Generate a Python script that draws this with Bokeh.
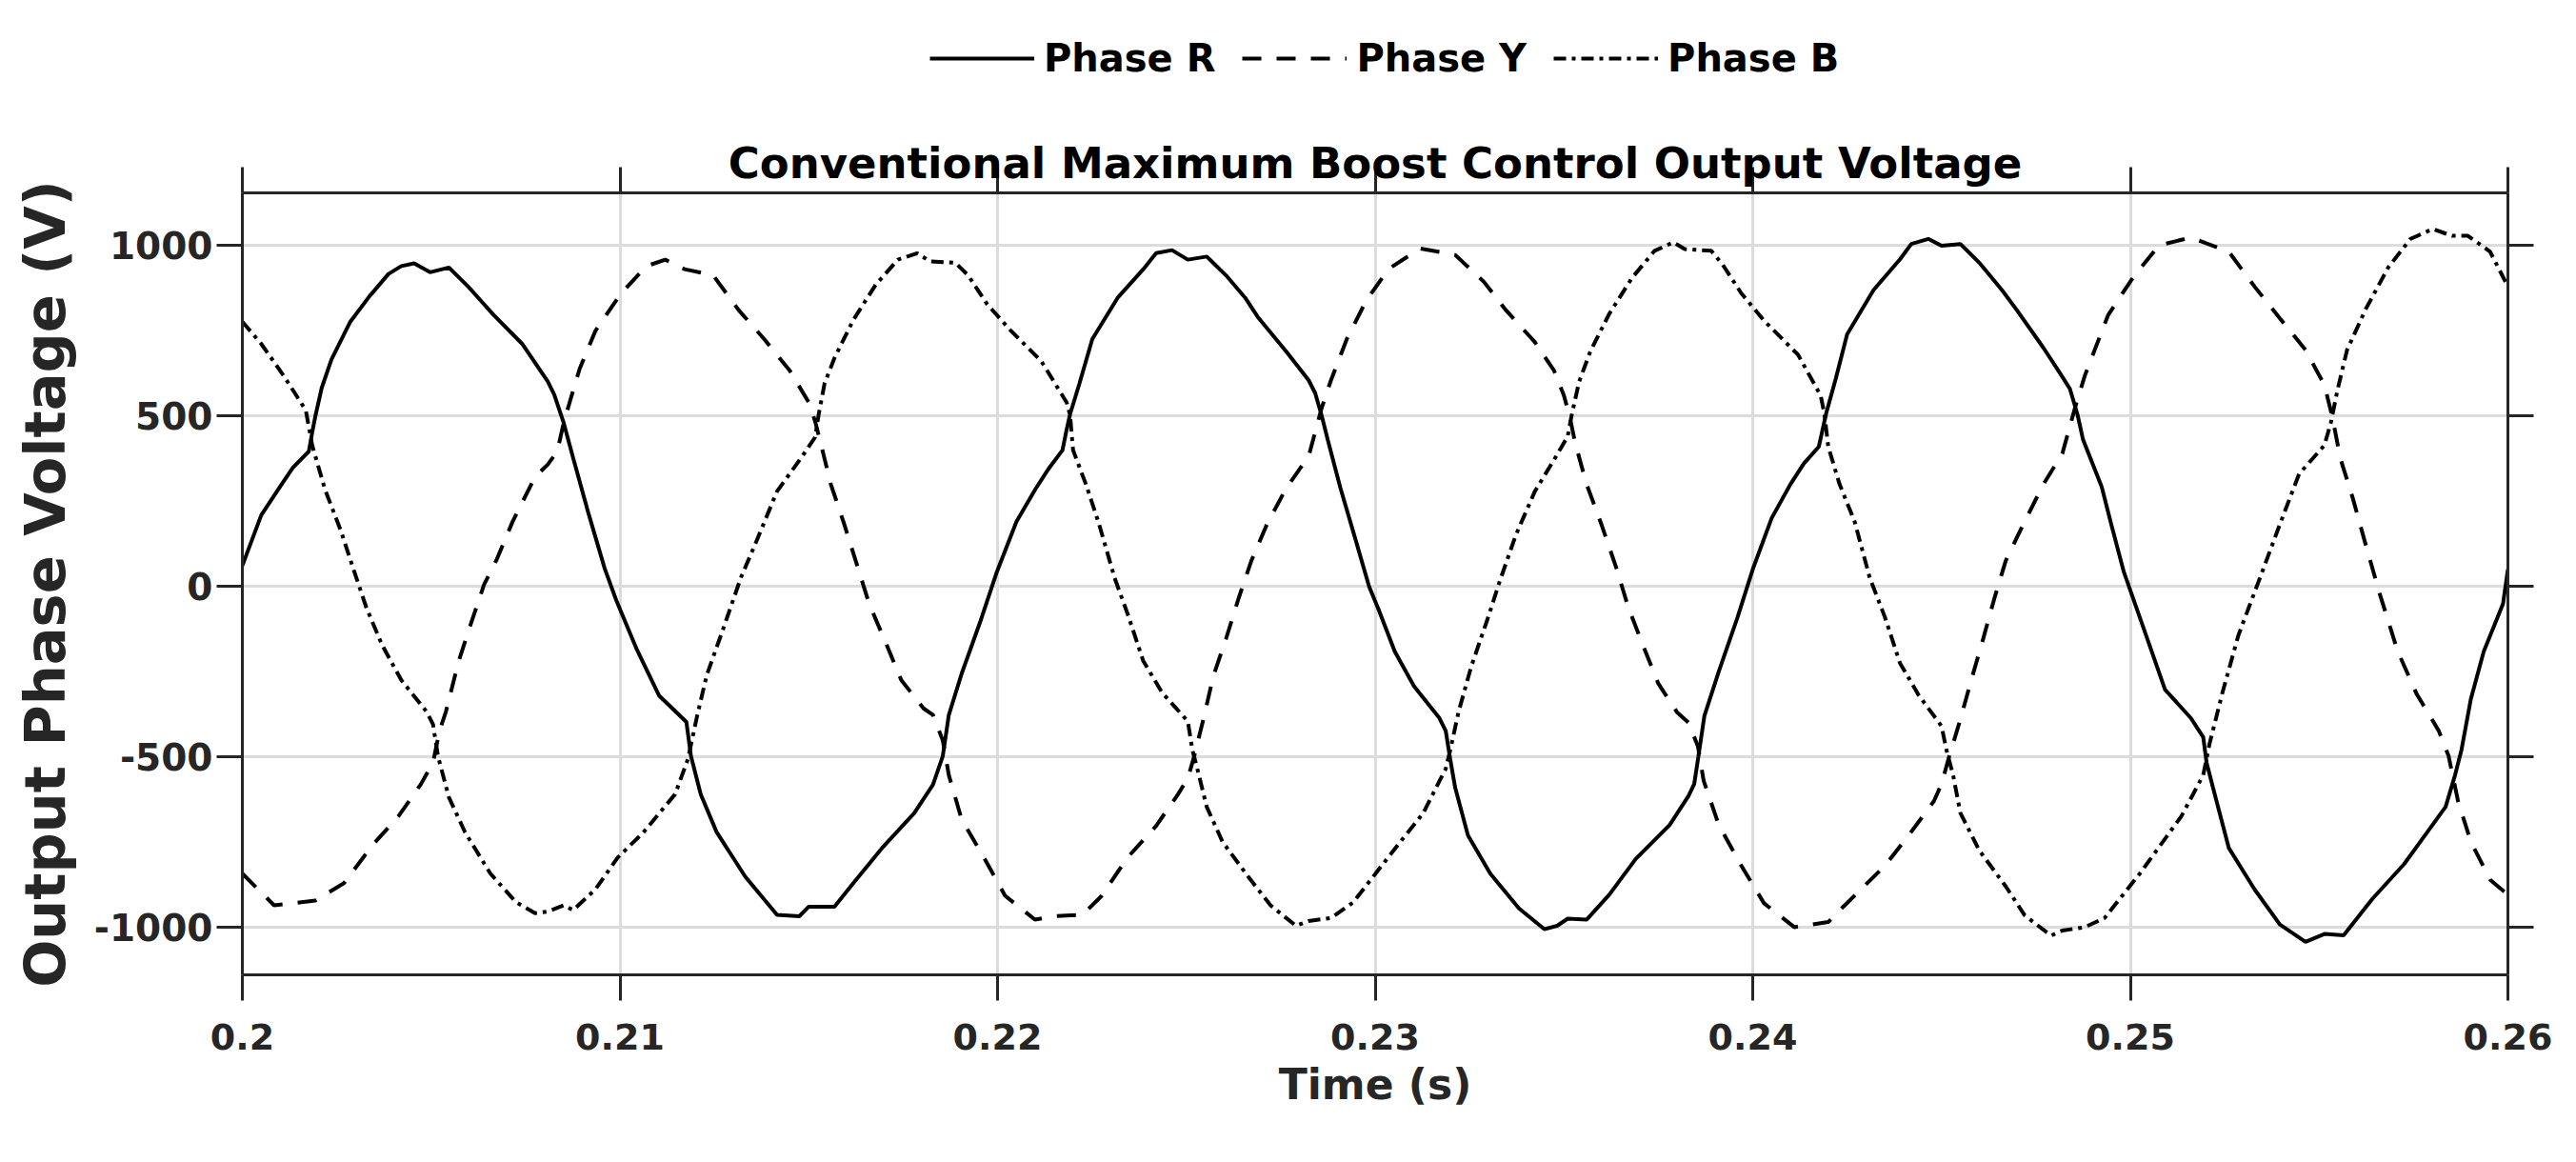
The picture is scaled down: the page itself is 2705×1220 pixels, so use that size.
from bokeh.plotting import figure
from bokeh.layouts import column
from bokeh.models import (Range1d, LinearAxis, FixedTicker, CustomJSTickFormatter,
                          Legend, LegendItem)
from bokeh.embed import file_html
from bokeh.resources import INLINE

# ---------------- data ----------------
title_text = "Conventional Maximum Boost Control Output Voltage"
x_label = "Time (s)"
y_label = "Output Phase Voltage (V)"
series_names = ["Phase R", "Phase Y", "Phase B"]
x_ticks = [0.2, 0.21, 0.22, 0.23, 0.24, 0.25, 0.26]
y_ticks = [-1000, -500, 0, 500, 1000]

t_R = [0.2000, 0.2005, 0.2010, 0.20134, 0.20176, 0.20185, 0.20193, 0.2021, 0.20236, 0.20286,
       0.20337, 0.20387, 0.20421, 0.20455, 0.20497, 0.20547, 0.20598, 0.20666, 0.20741, 0.20809,
       0.20826, 0.20851, 0.20876, 0.20918, 0.2096, 0.2099, 0.21045, 0.21104, 0.21176, 0.21188,
       0.21214, 0.21256, 0.21332, 0.21416, 0.21475, 0.2150, 0.21568, 0.21618, 0.21694, 0.21779,
       0.21829, 0.21855, 0.21871, 0.21905, 0.21956, 0.21998,
       0.2205, 0.2210, 0.22135, 0.22172, 0.22182, 0.22192, 0.22217, 0.22251, 0.22318, 0.22386,
       0.2242, 0.22462, 0.22504, 0.22554, 0.22605, 0.22656, 0.22689, 0.22765, 0.22824, 0.22841,
       0.22858, 0.22875, 0.22908, 0.2295, 0.22984, 0.2301, 0.23052, 0.23103, 0.2317, 0.23187,
       0.23199, 0.23212, 0.23246, 0.23305, 0.23381, 0.23448, 0.23482, 0.2351, 0.2356, 0.2362,
       0.2369, 0.2378, 0.2383, 0.23845, 0.23856, 0.23872, 0.2391, 0.2396, 0.2400,
       0.2405, 0.2410, 0.24135, 0.24175, 0.24185, 0.24195, 0.2422, 0.2425, 0.2432, 0.2439,
       0.2442, 0.24465, 0.2450, 0.2455, 0.2460, 0.2466, 0.2470, 0.2477, 0.2482, 0.2484,
       0.2486, 0.24875, 0.24924, 0.2495, 0.24983, 0.25033, 0.25092, 0.2516, 0.25193, 0.25202,
       0.25219, 0.25261, 0.25329, 0.25396, 0.25464, 0.25514, 0.25565, 0.25641, 0.25725, 0.25835,
       0.2586, 0.25877, 0.25902, 0.25936, 0.25987, 0.2600]
v_R = [61, 209, 293, 349, 396, 452, 498, 582, 666, 777,
       852, 917, 940, 948, 922, 936, 880, 796, 712, 601,
       563, 480, 377, 209, 51, -40, -186, -321, -398, -498,
       -610, -721, -852, -964, -968, -940, -940, -871, -768, -666,
       -582, -498, -377, -256, -98, 42,
       190, 285, 345, 400, 455, 505, 596, 726, 847, 931,
       978, 987, 959, 968, 913, 847, 791, 689, 605, 568,
       503, 428, 289, 130, 0, -70, -191, -293, -386, -424,
       -508, -591, -731, -843, -945, -1006, -996, -975, -978, -905,
       -800, -700, -615, -580, -500, -380, -250, -90, 50,
       200, 300, 360, 410, 460, 510, 610, 740, 870, 960,
       1005, 1020, 1000, 1005, 950, 870, 810, 700, 615, 580,
       505, 430, 293, 180, 42, -116, -303, -386, -442, -517,
       -591, -768, -889, -992, -1043, -1020, -1024, -917, -815, -647,
       -554, -480, -330, -191, -51, 50]

t_Y = [0.2000, 0.20084, 0.20193, 0.20269, 0.20345, 0.20413, 0.20472, 0.20505, 0.20522, 0.20539,
       0.20573, 0.20606, 0.2064, 0.20674, 0.20716, 0.20775, 0.20809, 0.20834, 0.20851, 0.20868,
       0.20893, 0.20935, 0.21003, 0.2107, 0.2112, 0.21171, 0.21247, 0.21315, 0.21382, 0.2145,
       0.2150, 0.21517, 0.21534, 0.21559, 0.21593, 0.2163, 0.2166, 0.21703, 0.21745, 0.21804,
       0.21829, 0.21855, 0.21871, 0.21905, 0.21964, 0.2202, 0.22099, 0.2215, 0.22225, 0.22276,
       0.22344, 0.2242, 0.22478, 0.22504, 0.22521, 0.22546, 0.22571, 0.22605, 0.22639, 0.22672,
       0.22715, 0.22765, 0.22824, 0.22858, 0.22883, 0.22925, 0.22976, 0.23035, 0.23119, 0.23212,
       0.23288, 0.23347, 0.23423, 0.23474, 0.2350, 0.23515, 0.2353, 0.2356, 0.2360, 0.2364,
       0.2367, 0.2371, 0.2375, 0.2380, 0.2383, 0.23855, 0.2387, 0.2391, 0.2397, 0.2403,
       0.2411, 0.2420, 0.2424, 0.2435, 0.2442, 0.2448, 0.2450, 0.2452, 0.2455, 0.2458,
       0.2461, 0.2464, 0.2467, 0.2472, 0.2477, 0.2482, 0.24855, 0.2488, 0.24941, 0.25008,
       0.25076, 0.2516, 0.25261, 0.25329, 0.25396, 0.25464, 0.25514, 0.25535, 0.25556, 0.2559,
       0.25624, 0.2566, 0.25708, 0.25758, 0.25817, 0.25843, 0.25868, 0.25902, 0.25953, 0.2600]
v_Y = [-843, -936, -922, -871, -759, -675, -582, -517, -424, -368,
       -219, -107, 5, 80, 191, 321, 358, 396, 480, 545,
       638, 750, 860, 940, 959, 931, 913, 810, 726, 633,
       540, 484, 410, 298, 186, 55, -51, -163, -275, -358,
       -377, -452, -554, -684, -796, -908, -978, -968, -964, -908,
       -796, -703, -610, -563, -498, -386, -265, -154, -33, 75,
       186, 289, 382, 522, 605, 726, 838, 931, 992, 973,
       894, 810, 717, 633, 560, 500, 420, 300, 180, 50,
       -60, -175, -285, -370, -400, -470, -570, -700, -820, -930,
       -1000, -985, -940, -820, -720, -630, -580, -500, -390, -270,
       -155, -35, 75, 190, 300, 390, 530, 620, 796, 908,
       1001, 1024, 982, 880, 787, 694, 591, 498, 377, 256,
       120, -20, -190, -315, -424, -498, -630, -750, -861, -905]

t_B = [0.2000, 0.2005, 0.20109, 0.20168, 0.20185, 0.20219, 0.20261, 0.20294, 0.20328, 0.2037,
       0.20421, 0.20488, 0.20505, 0.20518, 0.20547, 0.2059, 0.20657, 0.20725, 0.20775, 0.20809,
       0.20851, 0.20876, 0.20935, 0.20994, 0.21062, 0.21146, 0.2118, 0.21205, 0.2123, 0.21273,
       0.2132, 0.21357, 0.21416, 0.21483, 0.21517, 0.21526, 0.21542, 0.21568, 0.21618, 0.21677,
       0.21736, 0.21787, 0.21821, 0.21888, 0.21922, 0.21972, 0.22032, 0.22116, 0.22183, 0.22192,
       0.2220, 0.22234, 0.22268, 0.2231, 0.22344, 0.22386, 0.22436, 0.22504, 0.22516, 0.22529,
       0.22554, 0.22596, 0.22664, 0.22723, 0.2279, 0.22824, 0.22883, 0.22942, 0.23001, 0.2306,
       0.23127, 0.23187, 0.23199, 0.23221, 0.23254, 0.23297, 0.2333, 0.23372, 0.23423, 0.23474,
       0.2351, 0.2352, 0.2354, 0.2357, 0.2362, 0.2368, 0.2374, 0.2379, 0.2382, 0.2389,
       0.2392, 0.2397, 0.2403, 0.2412, 0.2418, 0.2419, 0.2420, 0.2423, 0.2427, 0.2431,
       0.2435, 0.2439, 0.2444, 0.2450, 0.24515, 0.2453, 0.2455, 0.2460, 0.2467, 0.2472,
       0.2479, 0.2482, 0.2488, 0.24932, 0.25025, 0.25135, 0.25193, 0.2521, 0.25244, 0.25286,
       0.25346, 0.25396, 0.25447, 0.25514, 0.25531, 0.25548, 0.25574, 0.25624, 0.25683, 0.25742,
       0.25801, 0.25852, 0.25894, 0.25953, 0.2600]
v_B = [777, 712, 619, 517, 414, 284, 163, 51, -61, -172,
       -275, -368, -405, -498, -619, -722, -843, -927, -959, -954,
       -936, -950, -889, -796, -722, -610, -507, -377, -260, -126,
       25, 121, 279, 382, 438, 503, 596, 670, 782, 885,
       959, 978, 954, 950, 913, 829, 754, 661, 540, 503,
       400, 300, 186, 25, -79, -219, -312, -396, -480, -535,
       -647, -750, -852, -936, -996, -982, -973, -927, -843, -759,
       -666, -535, -480, -368, -237, -98, 15, 149, 279, 372,
       440, 500, 600, 690, 800, 905, 985, 1010, 990, 985,
       945, 860, 780, 680, 560, 505, 410, 300, 190, 25,
       -90, -225, -320, -410, -490, -550, -665, -775, -880, -965,
       -1025, -1010, -1000, -973, -843, -675, -554, -461, -312, -144,
       33, 182, 330, 414, 480, 573, 694, 815, 936, 1020,
       1049, 1029, 1029, 982, 880]

series = [(t_R, v_R), (t_Y, v_Y), (t_B, v_B)]

# ---------------- styling ----------------
FONT = "DejaVu Sans"
AX = "#262626"
W = 2705
LEG_H = 110
MAIN_H = 1220 - LEG_H

styles = [dict(line_color="black", line_width=4),
          dict(line_color="black", line_width=4, line_dash="20 16"),
          dict(line_color="black", line_width=4, line_dash="13 6 4 6")]

# ---------------- main plot ----------------
p = figure(width=W, height=MAIN_H, output_backend="svg", toolbar_location=None,
           title=None, x_range=Range1d(0.2, 0.26), y_range=Range1d(-1140, 1155),
           min_border_left=254, min_border_right=72, min_border_top=202 - LEG_H,
           min_border_bottom=197, background_fill_color="white",
           border_fill_color="white")
p.outline_line_color = None

xfmt = CustomJSTickFormatter(code="return tick.toFixed(2).replace(/0$/, '');")
yfmt = CustomJSTickFormatter(code="return String(Math.round(tick));")
blank = CustomJSTickFormatter(code="return '';")

def style_axis(ax):
    ax.axis_line_color = AX
    ax.axis_line_width = 3
    ax.major_tick_line_color = AX
    ax.major_tick_line_width = 3
    ax.major_tick_out = 27
    ax.major_tick_in = 0
    ax.minor_tick_line_color = None
    ax.major_label_text_font = FONT
    ax.major_label_text_font_style = "bold"
    ax.major_label_text_font_size = "38px"
    ax.major_label_text_color = AX
    ax.axis_label_text_font = FONT
    ax.axis_label_text_font_style = "bold"
    ax.axis_label_text_color = AX

xa = p.xaxis[0]
xa.ticker = FixedTicker(ticks=x_ticks)
xa.formatter = xfmt
style_axis(xa)
xa.major_label_standoff = 24
xa.axis_label = x_label
xa.axis_label_text_font_size = "44px"
xa.axis_label_standoff = 8

ya = p.yaxis[0]
ya.ticker = FixedTicker(ticks=y_ticks)
ya.formatter = yfmt
style_axis(ya)
ya.major_label_text_font_size = "39px"
ya.major_label_standoff = 4
ya.axis_label = y_label
ya.axis_label_text_font_size = "59px"
ya.axis_label_standoff = 14

top = LinearAxis(ticker=FixedTicker(ticks=x_ticks), formatter=blank)
style_axis(top)
top.major_label_text_font_size = "1px"
top.major_label_standoff = 0
top.axis_label = title_text
top.axis_label_text_font_size = "45px"
top.axis_label_text_color = "black"
top.axis_label_standoff = -22
p.add_layout(top, "above")

right = LinearAxis(ticker=FixedTicker(ticks=y_ticks), formatter=blank)
style_axis(right)
right.major_label_text_font_size = "1px"
right.major_label_standoff = 0
p.add_layout(right, "right")

p.xgrid.ticker = FixedTicker(ticks=x_ticks)
p.ygrid.ticker = FixedTicker(ticks=y_ticks)
for g in (p.xgrid[0], p.ygrid[0]):
    g.grid_line_color = "#dcdcdc"
    g.grid_line_width = 3

for (tt, vv), st in zip(series, styles):
    p.line(tt, vv, **st)

# ---------------- legend strip above the plot ----------------
# Same series drawn again, but the strip's y range lies far above the data,
# so only their legend samples are visible.
lg = figure(width=W, height=LEG_H, output_backend="svg", toolbar_location=None,
            title=None, x_axis_type=None, y_axis_type=None,
            x_range=Range1d(0.2, 0.26), y_range=Range1d(5000, 6000),
            min_border=0, background_fill_color="white", border_fill_color="white")
lg.outline_line_color = None
lg.grid.visible = False
leg_r = [lg.line(tt, vv, **st) for (tt, vv), st in zip(series, styles)]

legend = Legend(items=[LegendItem(label=n, renderers=[r]) for n, r in zip(series_names, leg_r)],
                orientation="horizontal", location=(722, 26),
                glyph_width=110, glyph_height=40, label_standoff=10, spacing=28,
                padding=0, margin=0, border_line_color=None,
                background_fill_alpha=0, label_text_font=FONT,
                label_text_font_style="bold", label_text_font_size="40px",
                label_text_color="black")
lg.add_layout(legend)

layout = column(lg, p, spacing=0)
open("out.html", "w").write(file_html(layout, INLINE))
